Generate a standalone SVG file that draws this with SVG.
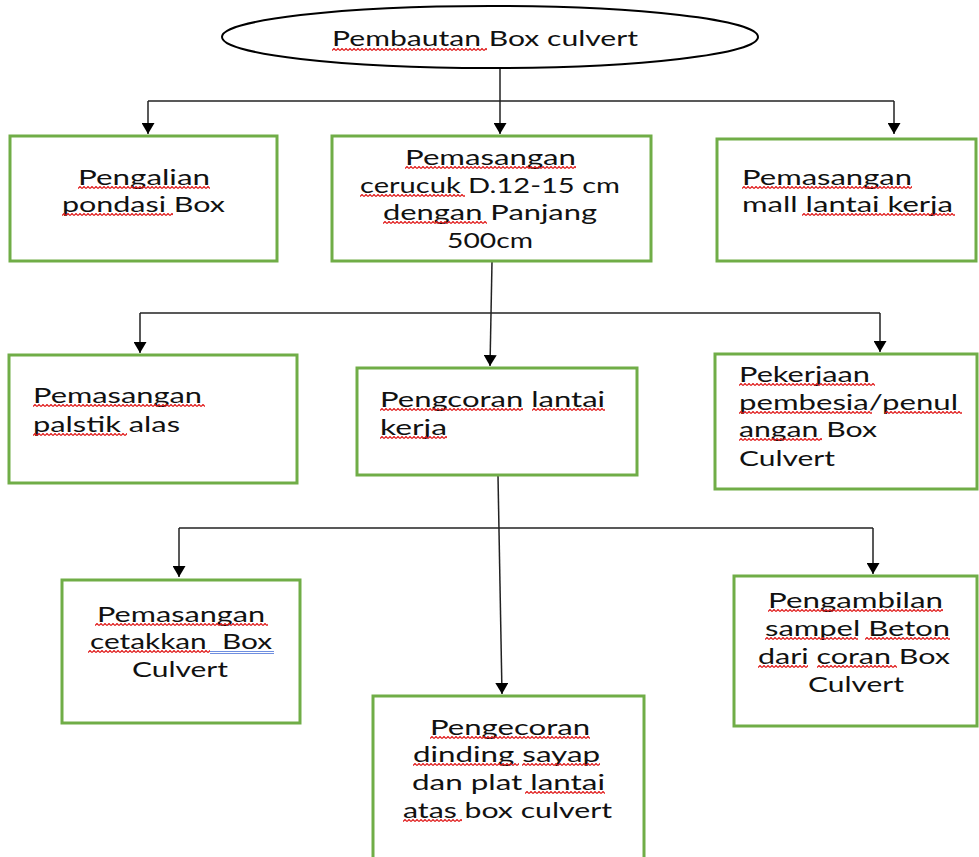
<svg xmlns="http://www.w3.org/2000/svg" width="979" height="857" viewBox="0 0 979 857">
<defs>
<style>
.box{fill:#fff;stroke:#70AD47;stroke-width:3}
.t{font-family:Lato,"Open Sans","Liberation Sans",sans-serif;font-size:21px;fill:#111;white-space:pre}
.c{fill:none;stroke:#222;stroke-width:1.5}
.sq{fill:url(#sq)}
</style>
<pattern id="sq" width="4" height="3" patternUnits="userSpaceOnUse">
<path d="M0,2.5 L2,0.5 L4,2.5" fill="none" stroke="#e01818" stroke-width="1.2"/>
</pattern>
<marker id="ah" markerUnits="userSpaceOnUse" viewBox="0 0 11 13" markerWidth="11" markerHeight="13" refX="11" refY="6.5" orient="auto">
<path d="M0,0 L11,6.5 L0,13 z" fill="#000"/>
</marker>
</defs>
<rect width="979" height="857" fill="#fff"/>

<g id="connectors">
<line class="c" x1="500" y1="69" x2="500" y2="134" marker-end="url(#ah)"/>
<line class="c" x1="148" y1="101" x2="894" y2="101"/>
<line class="c" x1="148" y1="101" x2="148" y2="134" marker-end="url(#ah)"/>
<line class="c" x1="894" y1="101" x2="894" y2="134" marker-end="url(#ah)"/>
<line class="c" x1="492" y1="262" x2="490" y2="366" marker-end="url(#ah)"/>
<line class="c" x1="140" y1="313" x2="880" y2="313"/>
<line class="c" x1="140" y1="313" x2="140" y2="353" marker-end="url(#ah)"/>
<line class="c" x1="880" y1="313" x2="880" y2="352" marker-end="url(#ah)"/>
<line class="c" x1="498" y1="476" x2="502" y2="694" marker-end="url(#ah)"/>
<line class="c" x1="179" y1="528" x2="873" y2="528"/>
<line class="c" x1="179" y1="528" x2="179" y2="577" marker-end="url(#ah)"/>
<line class="c" x1="873" y1="528" x2="873" y2="574" marker-end="url(#ah)"/>
</g>

<g id="n0">
<ellipse cx="490" cy="37" rx="268" ry="31" fill="#fff" stroke="#000" stroke-width="2"/>
<text class="t" x="332" y="46" textLength="306" lengthAdjust="spacingAndGlyphs">Pembautan Box culvert</text>
<rect class="sq" transform="translate(332,48)" width="155" height="3"/>
</g>

<g id="n1">
<rect class="box" x="10" y="136" width="267" height="125"/>
<text class="t" x="78" y="185" textLength="132" lengthAdjust="spacingAndGlyphs">Pengalian</text>
<text class="t" x="62" y="212" textLength="163" lengthAdjust="spacingAndGlyphs">pondasi Box</text>
<rect class="sq" transform="translate(78,186)" width="132" height="3"/>
<rect class="sq" transform="translate(62,213)" width="111" height="3"/>
</g>

<g id="n2">
<rect class="box" x="332" y="136" width="319" height="125"/>
<text class="t" x="405" y="165" textLength="171" lengthAdjust="spacingAndGlyphs">Pemasangan</text>
<text class="t" x="360" y="193" textLength="260" lengthAdjust="spacingAndGlyphs">cerucuk D.12-15 cm</text>
<text class="t" x="383" y="220" textLength="214" lengthAdjust="spacingAndGlyphs">dengan Panjang</text>
<text class="t" x="447" y="248" textLength="86" lengthAdjust="spacingAndGlyphs">500cm</text>
<rect class="sq" transform="translate(405,166)" width="171" height="3"/>
<rect class="sq" transform="translate(360,194)" width="105" height="3"/>
<rect class="sq" transform="translate(383,221)" width="104" height="3"/>
</g>

<g id="n3">
<rect class="box" x="717" y="139" width="259" height="122"/>
<text class="t" x="742" y="185" textLength="170" lengthAdjust="spacingAndGlyphs">Pemasangan</text>
<text class="t" x="742" y="212" textLength="211" lengthAdjust="spacingAndGlyphs">mall lantai kerja</text>
<rect class="sq" transform="translate(742,186)" width="170" height="3"/>
<rect class="sq" transform="translate(802,213)" width="153" height="3"/>
</g>

<g id="n4">
<rect class="box" x="9" y="355" width="288" height="128"/>
<text class="t" x="33" y="403" textLength="169" lengthAdjust="spacingAndGlyphs">Pemasangan</text>
<text class="t" x="33" y="432" textLength="147" lengthAdjust="spacingAndGlyphs">palstik alas</text>
<rect class="sq" transform="translate(33,404)" width="172" height="3"/>
<rect class="sq" transform="translate(33,433)" width="94" height="3"/>
</g>

<g id="n5">
<rect class="box" x="357" y="368" width="280" height="107"/>
<text class="t" x="380" y="407" textLength="225" lengthAdjust="spacingAndGlyphs">Pengcoran lantai</text>
<text class="t" x="380" y="435" textLength="67" lengthAdjust="spacingAndGlyphs">kerja</text>
<rect class="sq" transform="translate(380,408)" width="143" height="3"/>
<rect class="sq" transform="translate(532,408)" width="73" height="3"/>
<rect class="sq" transform="translate(380,436)" width="67" height="3"/>
</g>

<g id="n6">
<rect class="box" x="715" y="354" width="262" height="135"/>
<text class="t" x="739" y="382" textLength="131" lengthAdjust="spacingAndGlyphs">Pekerjaan</text>
<text class="t" x="739" y="410" textLength="219" lengthAdjust="spacingAndGlyphs">pembesia/penul</text>
<text class="t" x="739" y="437" textLength="138" lengthAdjust="spacingAndGlyphs">angan Box</text>
<text class="t" x="739" y="466" textLength="96" lengthAdjust="spacingAndGlyphs">Culvert</text>
<rect class="sq" transform="translate(739,383)" width="136" height="3"/>
<rect class="sq" transform="translate(739,411)" width="133" height="3"/>
<rect class="sq" transform="translate(885,411)" width="77" height="3"/>
<rect class="sq" transform="translate(739,438)" width="83" height="3"/>
</g>

<g id="n7">
<rect class="box" x="62" y="580" width="238" height="143"/>
<text class="t" x="97" y="622" textLength="168" lengthAdjust="spacingAndGlyphs">Pemasangan</text>
<text class="t" x="90" y="649" textLength="182" lengthAdjust="spacingAndGlyphs">cetakkan  Box</text>
<text class="t" x="132" y="677" textLength="96" lengthAdjust="spacingAndGlyphs">Culvert</text>
<rect class="sq" transform="translate(95,623)" width="173" height="3"/>
<rect class="sq" transform="translate(88,650)" width="122" height="3"/>
<rect x="210" y="651" width="64" height="1" fill="#6f8fe0"/>
<rect x="210" y="653" width="64" height="1" fill="#6f8fe0"/>
</g>

<g id="n8">
<rect class="box" x="373" y="696" width="271" height="180"/>
<text class="t" x="430" y="735" textLength="160" lengthAdjust="spacingAndGlyphs">Pengecoran</text>
<text class="t" x="413" y="762" textLength="187" lengthAdjust="spacingAndGlyphs">dinding sayap</text>
<text class="t" x="412" y="790" textLength="193" lengthAdjust="spacingAndGlyphs">dan plat lantai</text>
<text class="t" x="403" y="818" textLength="209" lengthAdjust="spacingAndGlyphs">atas box culvert</text>
<rect class="sq" transform="translate(430,736)" width="160" height="3"/>
<rect class="sq" transform="translate(413,763)" width="106" height="3"/>
<rect class="sq" transform="translate(522,763)" width="78" height="3"/>
<rect class="sq" transform="translate(525,791)" width="80" height="3"/>
<rect class="sq" transform="translate(403,819)" width="59" height="3"/>
</g>

<g id="n9">
<rect class="box" x="734" y="576" width="243" height="150"/>
<text class="t" x="768" y="608" textLength="175" lengthAdjust="spacingAndGlyphs">Pengambilan</text>
<text class="t" x="765" y="636" textLength="185" lengthAdjust="spacingAndGlyphs">sampel Beton</text>
<text class="t" x="758" y="664" textLength="192" lengthAdjust="spacingAndGlyphs">dari coran Box</text>
<text class="t" x="808" y="692" textLength="96" lengthAdjust="spacingAndGlyphs">Culvert</text>
<rect class="sq" transform="translate(768,609)" width="175" height="3"/>
<rect class="sq" transform="translate(765,637)" width="93" height="3"/>
<rect class="sq" transform="translate(865,637)" width="85" height="3"/>
<rect class="sq" transform="translate(758,665)" width="50" height="3"/>
<rect class="sq" transform="translate(817,665)" width="80" height="3"/>
</g>
</svg>
